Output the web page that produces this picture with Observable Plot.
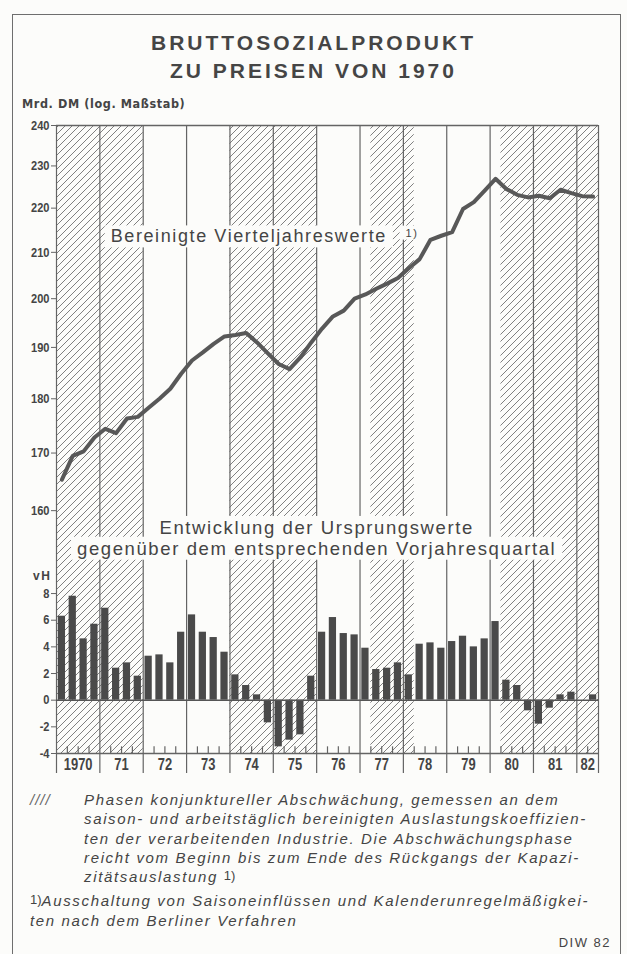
<!DOCTYPE html>
<html>
<head>
<meta charset="utf-8">
<script src="https://cdn.jsdelivr.net/npm/d3@7"></script>
<script src="https://cdn.jsdelivr.net/npm/@observablehq/plot@0.6"></script>
<style>
  body { margin: 0; background: #fcfcfa; }
  #page { position: relative; width: 627px; height: 954px; overflow: hidden; background: #fcfcfa;
          font-family: "Liberation Sans", Arial, sans-serif; color: #404040; }
  #border { position: absolute; left: 12px; top: 14px; width: 607px; height: 1000px;
            border: 1.5px solid #6e6e6e; }
  .title { position: absolute; left: 0; top: 29px; width: 627px; text-align: center; font-weight: bold;
           font-size: 21px; line-height: 28px; letter-spacing: 3px; color: #454545; }
  .narrow { font-family: "Liberation Sans Narrow", "DejaVu Sans Condensed", "Arial Narrow", sans-serif;
            font-stretch: condensed; font-weight: bold; }
  #unit { position: absolute; left: 22px; top: 97px; font-size: 12.5px; line-height: 14px; letter-spacing: 0.6px; color: #444; }
  #topchart { position: absolute; left: 0; top: 100px; }
  #botchart { position: absolute; left: 0; top: 562px; }
  .fn { position: absolute; font-style: italic; font-size: 15px; line-height: 19.3px; letter-spacing: 1.65px; color: #444; white-space: nowrap; }
  .sup { font-style: normal; font-size: 13px; position: relative; top: -2px; letter-spacing: 0; }
  #diw { position: absolute; right: 16px; top: 935px; font-size: 13px; line-height: 15px; letter-spacing: 1.5px; color: #444; }
  svg text { fill: #444; }
  g[aria-label="text"] text { letter-spacing: 1.6px; }
  g[aria-label$="tick label"] text { font-weight: bold; }
</style>
</head>
<body>
<div id="page">
  <div id="border"></div>
  <div class="title">BRUTTOSOZIALPRODUKT<br>ZU PREISEN VON 1970</div>
  <div id="unit" class="narrow">Mrd. DM (log. Maßstab)</div>
  <div id="topchart"></div>
  <div id="botchart"></div>
  <div class="fn" style="left:30px; top:790px; letter-spacing:1px; color:#666;">////</div>
  <div class="fn" style="left:84px; top:790px;">Phasen konjunktureller Abschwächung, gemessen an dem<br>saison- und arbeitstäglich bereinigten Auslastungskoeffizien-<br>ten der verarbeitenden Industrie. Die Abschwächungsphase<br>reicht vom Beginn bis zum Ende des Rückgangs der Kapazi-<br>zitätsauslastung <span class="sup">1)</span></div>
  <div class="fn" style="left:30px; top:891px;"><span class="sup">1)</span>Ausschaltung von Saisoneinflüssen und Kalenderunregelmäßigkei-<br>ten nach dem Berliner Verfahren</div>
  <div id="diw">DIW 82</div>
</div>
<svg width="0" height="0" style="position:absolute">
  <defs>
    <pattern id="hatch" patternUnits="userSpaceOnUse" width="7" height="7">
      <path d="M-1,1 L1,-1 M0,7 L7,0 M6,8 L8,6" stroke="#808080" stroke-width="1" fill="none"/>
    </pattern>
  </defs>
</svg>
<script>
// ---------------- data ----------------
// Bruttosozialprodukt, bereinigte Vierteljahreswerte (Mrd. DM, Preise von 1970), 1970 Q1 .. 1982 Q2
const gnp = [
  165.3, 169.5, 170.3, 172.8,   // 1970
  174.4, 173.6, 176.3, 176.6,   // 1971
  178.3, 180.0, 181.9, 184.8,   // 1972
  187.4, 189.0, 190.7, 192.2,   // 1973
  192.5, 192.9, 191.0, 188.8,   // 1974
  186.7, 185.7, 188.0, 191.0,   // 1975
  193.8, 196.3, 197.5, 200.0,   // 1976
  200.9, 202.1, 203.2, 204.4,   // 1977
  206.5, 208.5, 212.8, 213.7,   // 1978
  214.5, 219.8, 221.4, 224.1,   // 1979
  226.9, 224.5, 223.1, 222.5,   // 1980
  222.9, 222.3, 224.3, 223.5,   // 1981
  222.8, 222.7                  // 1982
];
// Veränderung der Ursprungswerte gegenüber Vorjahresquartal (vH)
const growth = [
  6.3, 7.8, 4.6, 5.7,     // 1970
  6.9, 2.4, 2.8, 1.8,     // 1971
  3.3, 3.4, 2.8, 5.1,     // 1972
  6.4, 5.1, 4.7, 3.6,     // 1973
  1.9, 1.1, 0.4, -1.7,    // 1974
  -3.5, -3.0, -2.6, 1.8,  // 1975
  5.1, 6.2, 5.0, 4.9,     // 1976
  3.9, 2.3, 2.4, 2.8,     // 1977
  1.9, 4.2, 4.3, 3.9,     // 1978
  4.4, 4.8, 4.0, 4.6,     // 1979
  5.9, 1.5, 1.1, -0.8,    // 1980
  -1.8, -0.6, 0.4, 0.6,   // 1981
  0.0, 0.4                // 1982
];
// Phasen konjunktureller Abschwächung (erstes und letztes Quartal)
const phaseStart = ["1970Q1", "1974Q1", "1977Q2", "1980Q2"];
const phaseEnd   = ["1971Q4", "1975Q4", "1978Q1", "1982Q2"];
// Achsenbeschriftungen
const yearLabels = ["1970", "71", "72", "73", "74", "75", "76", "77", "78", "79", "80", "81", "82"];
const topTicks = [160, 170, 180, 190, 200, 210, 220, 230, 240];
const botTicks = [-4, -2, 0, 2, 4, 6, 8];

// ---------------- derived ----------------
const firstYear = 1970;
const lastX = firstYear + gnp.length / 4;             // end of 1982 Q2
const qStart = i => firstYear + i / 4;
const parseQ = s => +s.slice(0, 4) + (+s.slice(5) - 1) / 4;
const lineData = gnp.map((v, i) => ({x: qStart(i) + 0.125, v}));
const barData = growth.map((v, i) => ({x1: qStart(i), x2: qStart(i) + 0.25, v}));
const phaseData = phaseStart.map((s, i) => ({x1: parseQ(s), x2: parseQ(phaseEnd[i]) + 0.25}));
const yearBounds = yearLabels.map((_, i) => firstYear + i).concat([lastX]);
const yearMids = yearLabels.map((_, i) => (firstYear + i + Math.min(firstYear + i + 1, lastX)) / 2);
const quarterTicks = d3.range(1, gnp.length).map(qStart).filter(x => x % 1 !== 0);

const yDomTop = [151.5, 240];
const yDomBot = [-4, 10.33];
const ink = "#646464";
const xScale = {domain: [firstYear, lastX], axis: null};
const common = {width: 627, marginLeft: 56, marginRight: 29,
  style: {background: "transparent", fontFamily: "Liberation Sans, Arial, sans-serif", fontSize: "12px", color: "#444", overflow: "visible"}};

const topPlot = Plot.plot({
  ...common, height: 462, marginTop: 25, marginBottom: 0,
  x: xScale,
  y: {type: "log", domain: yDomTop, axis: null},
  marks: [
    Plot.rect(phaseData, {x1: "x1", x2: "x2", y1: () => yDomTop[0], y2: () => yDomTop[1], fill: "url(#hatch)"}),
    Plot.ruleX(yearBounds, {stroke: ink, strokeWidth: 1.2}),
    Plot.ruleY([yDomTop[1]], {stroke: ink, strokeWidth: 1.4}),
    Plot.axisY({ticks: topTicks, tickSize: 5, tickPadding: 2, tickFormat: d => String(d), fontSize: 13, stroke: ink}),
    Plot.line(lineData, {x: "x", y: "v", stroke: "#585858", strokeWidth: 4, strokeLinejoin: "round", strokeLinecap: "round"}),
    Plot.text([{t: "Bereinigte Vierteljahreswerte", x: 1971.25, y: 213.5}],
      {x: "x", y: "y", text: "t", textAnchor: "start", fontSize: 18, fill: "#474747"}),
    Plot.text([{t: "1)", x: 1978.05, y: 214.3}],
      {x: "x", y: "y", text: "t", textAnchor: "start", fontSize: 11, fill: "#474747"}),
    Plot.text([{t: "Entwicklung der Ursprungswerte", x: 1976, y: 157.1},
               {t: "gegenüber dem entsprechenden Vorjahresquartal", x: 1976, y: 153.7}],
      {x: "x", y: "y", text: "t", textAnchor: "middle", fontSize: 18.5, fill: "#474747"})
  ]
});

const botPlot = Plot.plot({
  ...common, height: 226, marginTop: 0, marginBottom: 35,
  x: xScale,
  y: {domain: yDomBot, axis: null},
  marks: [
    Plot.rect(phaseData, {x1: "x1", x2: "x2", y1: () => yDomBot[0], y2: () => yDomBot[1], fill: "url(#hatch)"}),
    Plot.ruleX(yearBounds, {stroke: ink, strokeWidth: 1.2}),
    Plot.ruleX(quarterTicks, {y1: () => yDomBot[0], y2: () => yDomBot[0] + 0.5, stroke: ink, strokeWidth: 1.2}),
    Plot.rectY(barData, {x1: "x1", x2: "x2", y: "v", fill: "#4a4a4a", insetLeft: 1.8, insetRight: 1.8}),
    Plot.ruleY([0], {stroke: "#555", strokeWidth: 1.6}),
    Plot.ruleY([yDomBot[0]], {stroke: ink, strokeWidth: 1.4}),
    Plot.axisY({ticks: botTicks, tickSize: 5, tickPadding: 2, tickFormat: d => d < 0 ? "-" + Math.abs(d) : String(d), fontSize: 13, stroke: ink}),
    Plot.text([{t: "vH", x: firstYear, y: 9.3}], {x: "x", y: "y", text: "t", textAnchor: "end", dx: -5, fontSize: 12, fontWeight: "bold", fill: "#444"}),
    Plot.axisX({ticks: yearBounds, tickSize: 20, tickFormat: () => "", stroke: ink, strokeWidth: 1.2}),
    Plot.axisX({ticks: yearMids, tickSize: 0, tickPadding: 4, tickFormat: d => yearLabels[Math.floor(d - firstYear)], fontSize: 17})
  ]
});

document.getElementById("topchart").appendChild(topPlot);
document.getElementById("botchart").appendChild(botPlot);

// condensed look for tick labels: squeeze glyphs with textLength (positions untouched)
function condense(svg, selector, k) {
  svg.querySelectorAll(selector).forEach(t => {
    const w = t.getComputedTextLength();
    if (w > 0) {
      t.setAttribute("lengthAdjust", "spacingAndGlyphs");
      t.setAttribute("textLength", (w * k).toFixed(2));
    }
  });
}
condense(topPlot, 'g[aria-label="y-axis tick label"] text', 0.85);
condense(botPlot, 'g[aria-label="y-axis tick label"] text', 0.85);
condense(botPlot, 'g[aria-label="x-axis tick label"] text', 0.76);

// white boxes behind the annotation labels (from the rendered text extents)
function addTextBoxes(svg, padX, padY) {
  svg.querySelectorAll('g[aria-label="text"]').forEach(g => {
    const boxes = Array.from(g.querySelectorAll("text")).map(t => ({b: t.getBBox(), tr: t.getAttribute("transform")}));
    boxes.forEach(({b, tr}) => {
      const r = document.createElementNS("http://www.w3.org/2000/svg", "rect");
      r.setAttribute("x", b.x - padX);
      r.setAttribute("y", b.y - padY);
      r.setAttribute("width", b.width + 2 * padX);
      r.setAttribute("height", b.height + 2 * padY);
      r.setAttribute("fill", "#fcfcfa");
      r.setAttribute("stroke", "none");
      if (tr) r.setAttribute("transform", tr);
      g.insertBefore(r, g.firstChild);
    });
  });
}
addTextBoxes(topPlot, 6, 1);
</script>
</body>
</html>
